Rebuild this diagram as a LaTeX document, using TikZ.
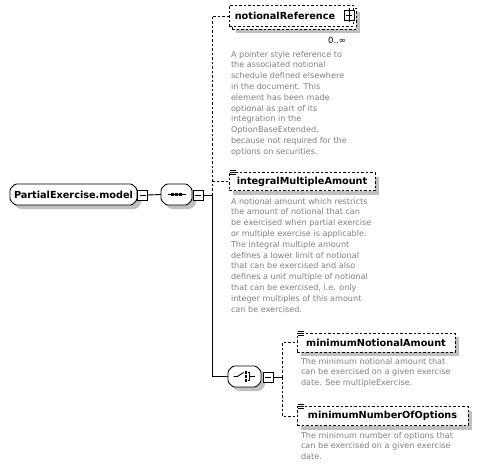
\documentclass[tikz,border=0pt]{standalone}
\usepackage{fontspec}
\setmainfont{DejaVu Sans}
\usetikzlibrary{shadows,calc}
\definecolor{descgray}{RGB}{128,128,128}
\definecolor{shadowgray}{RGB}{192,192,192}
% octagon path round node #1, chamfer #2, offset #3
\newcommand\octpath[3]{($(#1.north west)+(#2+#3,#3)$) -- ($(#1.north east)+(-#2+#3,#3)$) -- ($(#1.north east)+(#3,#2+#3)$) -- ($(#1.south east)+(#3,-#2+#3)$) -- ($(#1.south east)+(-#2+#3,#3)$) -- ($(#1.south west)+(#2+#3,#3)$) -- ($(#1.south west)+(#3,-#2+#3)$) -- ($(#1.north west)+(#3,#2+#3)$) -- cycle}
\begin{document}
\begin{tikzpicture}[x=1pt,y=-1pt,
 every node/.style={inner sep=0pt, outer sep=0pt},
 shad/.style={drop shadow={shadow xshift=4pt,shadow yshift=-4pt,fill=shadowgray,opacity=1}},
 namefont/.style={font=\bfseries\fontsize{9.7}{11}\selectfont},
 elem/.style={draw, dash pattern=on 2.5pt off 2pt, fill=white, line width=0.9pt, namefont},
 holder/.style={rectangle, draw=none},
 octshadow/.style={fill=shadowgray, rounded corners=1.5pt},
 octdraw/.style={fill=white, draw, line width=0.9pt, rounded corners=1.5pt},
 mbox/.style={draw, fill=white, minimum size=10pt, line width=0.9pt},
 desc/.style={anchor=north west, align=left, text=descgray, font=\fontsize{8.1}{10.8}\selectfont},
 conn/.style={line width=0.9pt},
 dconn/.style={line width=0.9pt, dash pattern=on 2.5pt off 2pt}]
\useasboundingbox (0,0) rectangle (479,468);

% root
\node[holder, minimum width=127, minimum height=21] (root) at (73.5,194.5) {};
\fill[octshadow] \octpath{root}{5}{4};
\draw[octdraw] \octpath{root}{5}{0};
\node[namefont] (roottext) at (root.center) {PartialExercise.model};
\node[mbox] (rootm) at (142.5,195) {};
\draw[conn] ([xshift=2pt]rootm.west) -- ([xshift=-2pt]rootm.east);

% sequence
\node[holder, minimum width=31, minimum height=21] (seq) at (176.5,194.5) {};
\fill[octshadow] \octpath{seq}{5}{4};
\draw[octdraw] \octpath{seq}{5}{0};
\draw[conn] ([xshift=-9pt]seq.center) -- ([xshift=9pt]seq.center);
\foreach \dx in {-4,0,4} \fill ([xshift=\dx pt]seq.center) +(-1.5,-1.5) rectangle +(1.5,1.5);
\node[mbox] (seqm) at (198,195) {};
\draw[conn] ([xshift=2pt]seqm.west) -- ([xshift=-2pt]seqm.east);
\draw[conn] (rootm.east) -- (seq.west);
\coordinate (v) at (212,195);
\draw[conn] (seqm.east) -- (v);

% notionalReference (multiple)
\node[elem, shad, minimum width=124, minimum height=21] (nrback) at (294,19) {};
\node[elem, minimum width=124, minimum height=21] (nr) at (291,16) {notionalReference\hspace*{12pt}};
\node[mbox] (nrp) at (349,15.5) {};
\draw[conn] ([xshift=2pt]nrp.west) -- ([xshift=-2pt]nrp.east);
\draw[conn] ([yshift=2pt]nrp.north) -- ([yshift=-2pt]nrp.south);
\node[anchor=east, font=\fontsize{8.5}{9}\selectfont] (nrocc) at (346,40) {0..∞};
\node[desc] (nrdesc) at (231,51) {A pointer style reference to\\the associated notional\\schedule defined elsewhere\\in the document. This\\element has been made\\optional as part of its\\integration in the\\OptionBaseExtended,\\because not required for the\\options on securities.};

% integralMultipleAmount
\node[elem, shad, minimum width=146, minimum height=18] (ima) at (302,181.5) {integralMultipleAmount};
\draw[line width=0.7pt] ($(ima.north west)+(1,-2)$) -- +(6,0) ($(ima.north west)+(1,0)$) -- +(6,0) ($(ima.north west)+(1,2)$) -- +(6,0);
\node[desc] (imadesc) at (231,198) {A notional amount which restricts\\the amount of notional that can\\be exercised when partial exercise\\or multiple exercise is applicable.\\The integral multiple amount\\defines a lower limit of notional\\that can be exercised and also\\defines a unit multiple of notional\\that can be exercised, i.e. only\\integer multiples of this amount\\can be exercised.};

% choice
\node[holder, minimum width=33, minimum height=21] (ch) at (244.5,376.5) {};
\fill[octshadow] \octpath{ch}{5}{4};
\draw[octdraw] \octpath{ch}{5}{0};
\draw[conn] ([xshift=-11pt]ch.center) -- ++(4,0) -- ++(6,-4);
\foreach \dy in {-4,0,4} \fill ([shift={(1.5,\dy)}]ch.center) +(-1.2,-1.2) rectangle +(1.2,1.2);
\draw[conn] (ch.center) +(3,-4) -- +(5,-4) -- +(5,4) -- +(3,4) +(5,0) -- +(10,0);
\node[mbox] (chm) at (268,377) {};
\draw[conn] ([xshift=2pt]chm.west) -- ([xshift=-2pt]chm.east);
\coordinate (v2) at (282,377);
\draw[conn] (chm.east) -- (v2);

% connectors from sequence
\draw[dconn] (v) |- (nr.west);
\draw[dconn] (v) |- (ima.west);
\draw[conn] (v) |- (ch.west);

% minimumNotionalAmount
\node[elem, shad, minimum width=158, minimum height=19] (mna) at (376,342.5) {minimumNotionalAmount};
\draw[line width=0.7pt] ($(mna.north west)+(1,-2)$) -- +(6,0) ($(mna.north west)+(1,0)$) -- +(6,0) ($(mna.north west)+(1,2)$) -- +(6,0);
\node[desc] (mnadesc) at (301,358) {The minimum notional amount that\\can be exercised on a given exercise\\date. See multipleExercise.};

% minimumNumberOfOptions
\node[elem, shad, minimum width=171, minimum height=19] (mnoo) at (382.5,416) {minimumNumberOfOptions};
\draw[line width=0.7pt] ($(mnoo.north west)+(1,-2)$) -- +(6,0) ($(mnoo.north west)+(1,0)$) -- +(6,0) ($(mnoo.north west)+(1,2)$) -- +(6,0);
\node[desc] (mnoodesc) at (301,432) {The minimum number of options that\\can be exercised on a given exercise\\date.};

\draw[dconn] (v2) |- (mna.west);
\draw[dconn] (v2) |- (mnoo.west);
\end{tikzpicture}
\end{document}
